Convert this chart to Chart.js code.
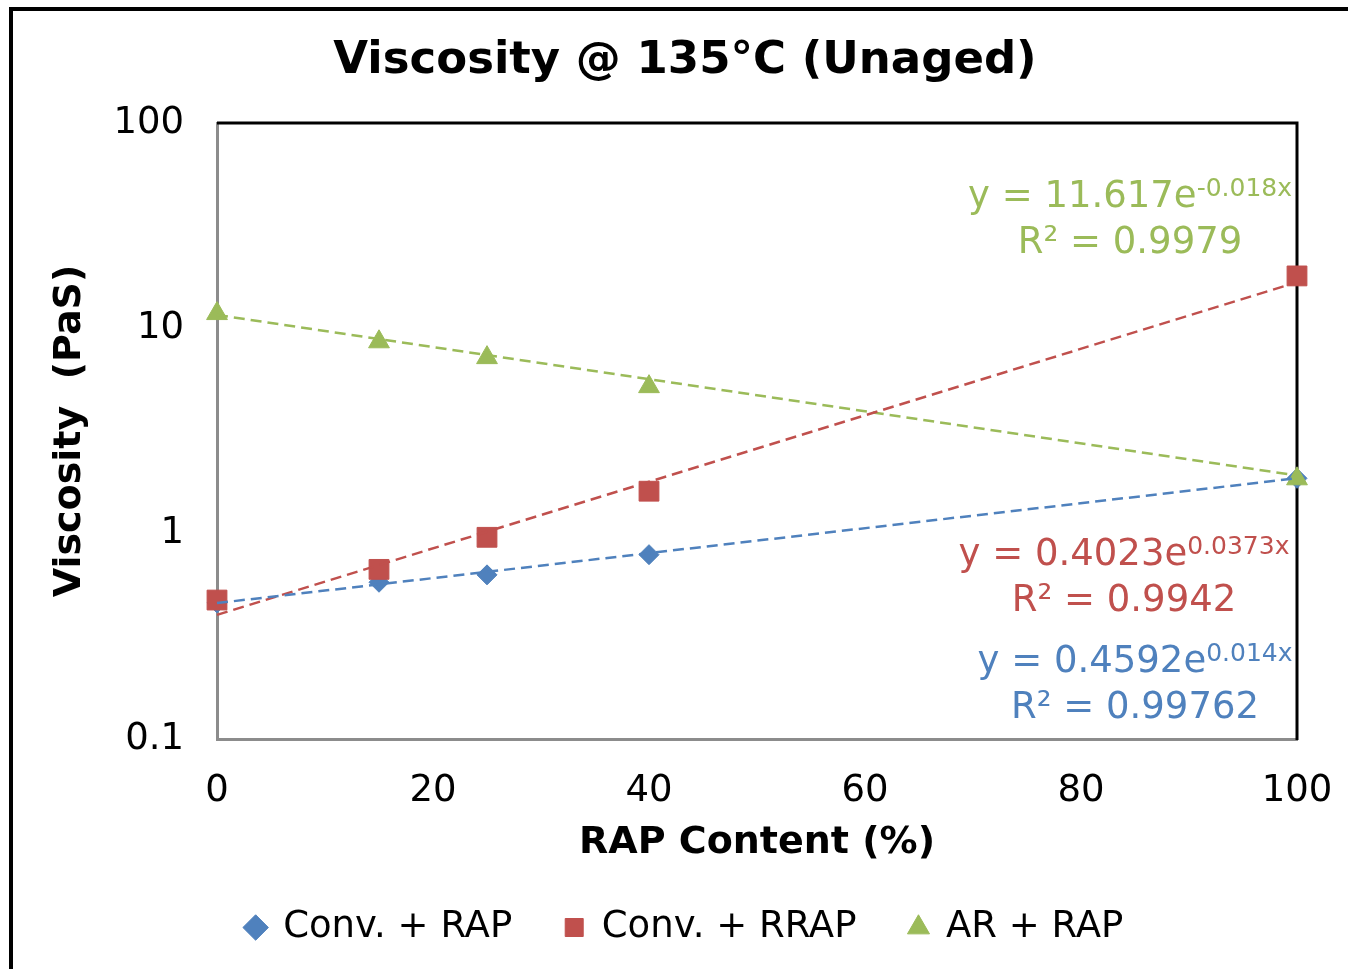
<!DOCTYPE html>
<html>
<head>
<meta charset="utf-8">
<script src="https://cdn.jsdelivr.net/npm/chart.js@4"></script>
<style>
  html, body { margin: 0; padding: 0; background: #fff; }
  #wrap { width: 1348px; height: 969px; }
</style>
</head>
<body>
<div id="wrap"><canvas id="chart" width="1348" height="969"></canvas></div>
<script>
// RAP content (%) on the x axis
const rapContent = [0, 15, 25, 40, 100];

// measured viscosity (PaS) per binder
const convRap = [0.46, 0.58, 0.63, 0.79, 1.86];
const convRrap = [0.475, 0.67, 0.96, 1.61, 18.0];
const arRap = [11.8, 8.6, 7.2, 5.2, 1.85];

// exponential trendlines y = a * e^(b x) and their R²
const trendA = [0.4592, 0.4023, 11.617];
const trendB = [0.014, 0.0373, -0.018];
const trendR2 = [0.99762, 0.9942, 0.9979];

const seriesNames = ["Conv. + RAP", "Conv. + RRAP", "AR + RAP"];
const xTicks = [0, 20, 40, 60, 80, 100];
const yTicks = [0.1, 1, 10, 100];

const colors = ["#4f81bd", "#c0504d", "#9bbb59"];
const FONT = "'DejaVu Sans', Verdana, sans-serif";

function points(values) {
	return rapContent.map((x, i) => ({ x: x, y: values[i] }));
}

function trendPoints(i) {
	const x0 = rapContent[0];
	const x1 = rapContent[rapContent.length - 1];
	return [
		{ x: x0, y: trendA[i] * Math.exp(trendB[i] * x0) },
		{ x: x1, y: trendA[i] * Math.exp(trendB[i] * x1) },
	];
}

const markers = [
	{ style: "rectRot", radius: 10, order: 3 },
	{ style: "rect", radius: 14, order: 2 },
	{ style: "triangle", radius: 12, order: 1 },
];

const datasets = [convRap, convRrap, arRap].map((vals, i) => ({
	label: seriesNames[i],
	data: points(vals),
	showLine: false,
	pointStyle: markers[i].style,
	pointRadius: markers[i].radius,
	pointHoverRadius: markers[i].radius,
	pointBackgroundColor: colors[i],
	pointBorderColor: colors[i],
	pointBorderWidth: 1,
	backgroundColor: colors[i],
	borderColor: colors[i],
	order: markers[i].order,
	clip: false,
}));

for (let i = 0; i < 3; i++) {
	datasets.push({
		label: "trend " + i,
		data: trendPoints(i),
		showLine: true,
		borderColor: colors[i],
		borderWidth: 2.5,
		borderDash: [11, 6],
		pointRadius: 0,
		order: 0,
		clip: false,
	});
}

// white page with the heavy outer frame
const pageFrame = {
	id: "pageFrame",
	beforeDraw(chart) {
		const ctx = chart.ctx;
		ctx.save();
		ctx.fillStyle = "#fff";
		ctx.fillRect(0, 0, chart.width, chart.height);
		ctx.strokeStyle = "#000";
		ctx.lineWidth = 4;
		ctx.strokeRect(11, 9, chart.width + 20, chart.height + 20);
		ctx.restore();
	},
};

// black top and right edges of the plot box
const plotFrame = {
	id: "plotFrame",
	beforeDatasetsDraw(chart) {
		const { ctx, chartArea: a } = chart;
		ctx.save();
		ctx.strokeStyle = "#000";
		ctx.lineWidth = 3;
		ctx.beginPath();
		ctx.moveTo(a.left, a.top);
		ctx.lineTo(a.right, a.top);
		ctx.lineTo(a.right, a.bottom + 1);
		ctx.stroke();
		ctx.restore();
	},
};

// trendline equations with superscript exponents
const equations = {
	id: "equations",
	afterDatasetsDraw(chart) {
		const ctx = chart.ctx;
		const a = chart.chartArea;
		// centre x and the two baselines for each equation block
		const spots = [
			{ cx: a.right - 162, y1: 672, y2: 718 },
			{ cx: a.right - 173, y1: 565, y2: 611 },
			{ cx: a.right - 167, y1: 207, y2: 253 },
		];
		ctx.save();
		ctx.textBaseline = "alphabetic";
		ctx.textAlign = "left";
		for (let i = 0; i < 3; i++) {
			const s = spots[i];
			const main = "y = " + trendA[i] + "e";
			const sup = trendB[i] + "x";
			ctx.fillStyle = colors[i];
			ctx.font = "37px " + FONT;
			const wMain = ctx.measureText(main).width;
			ctx.font = "25px " + FONT;
			const wSup = ctx.measureText(sup).width;
			let x = s.cx - (wMain + wSup) / 2;
			ctx.font = "37px " + FONT;
			ctx.fillText(main, x, s.y1);
			ctx.font = "25px " + FONT;
			ctx.fillText(sup, x + wMain, s.y1 - 11);
			ctx.font = "37px " + FONT;
			ctx.textAlign = "center";
			ctx.fillText("R² = " + trendR2[i], s.cx, s.y2);
			ctx.textAlign = "left";
		}
		ctx.restore();
	},
};

new Chart(document.getElementById("chart"), {
	type: "scatter",
	data: { datasets: datasets },
	plugins: [pageFrame, plotFrame, equations],
	options: {
		responsive: false,
		animation: false,
		layout: { padding: { left: 73, top: 10, right: 51, bottom: 13 } },
		plugins: {
			tooltip: { enabled: false },
			title: {
				display: true,
				text: "Viscosity @ 135°C (Unaged)",
				color: "#000",
				font: { family: FONT, size: 45, weight: "bold", lineHeight: 1.2 },
				padding: { top: 24, bottom: 35 },
			},
			legend: {
				position: "bottom",
				labels: {
					color: "#000",
					font: { family: FONT, size: 37 },
					usePointStyle: true,
					boxWidth: 18,
					boxHeight: 18,
					padding: 53,
					filter: (item) => item.datasetIndex < 3,
					sort: (p, q) => p.datasetIndex - q.datasetIndex,
				},
			},
		},
		scales: {
			x: {
				type: "linear",
				min: 0,
				max: 100,
				afterBuildTicks: (scale) => {
					scale.ticks = xTicks.map((v) => ({ value: v }));
				},
				afterFit: (scale) => {
					scale.height = 117;
					// the "100" label may hang into the right margin
					scale.paddingRight = 0;
				},
				grid: { display: false },
				border: { display: true, color: "#8c8c8c", width: 3 },
				ticks: {
					color: "#000",
					font: { family: FONT, size: 37 },
					padding: 22,
					maxRotation: 0,
				},
				title: {
					display: true,
					text: "RAP Content (%)",
					color: "#000",
					font: { family: FONT, size: 38, weight: "bold", lineHeight: 0.5 },
					padding: { top: 0, bottom: 3 },
				},
			},
			y: {
				type: "logarithmic",
				min: 0.1,
				max: 100,
				afterBuildTicks: (scale) => {
					scale.ticks = yTicks.map((v) => ({ value: v }));
				},
				afterFit: (scale) => {
					scale.width = 144;
				},
				grid: { display: false },
				border: { display: true, color: "#8c8c8c", width: 3 },
				ticks: {
					color: "#000",
					font: { family: FONT, size: 37 },
					padding: 25,
					callback: (v) => String(v),
				},
				title: {
					display: true,
					text: "Viscosity  (PaS)",
					color: "#000",
					font: { family: FONT, size: 38, weight: "bold", lineHeight: 1 },
					padding: { top: -22, bottom: 0 },
				},
			},
		},
	},
});
</script>
</body>
</html>
